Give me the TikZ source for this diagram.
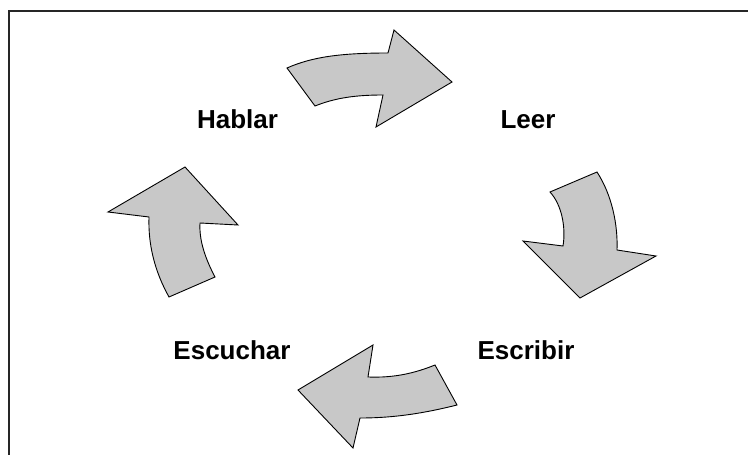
\documentclass[tikz,border=0pt]{standalone}
\usepackage{fontspec}
\setmainfont{Liberation Sans}
\begin{document}
\begin{tikzpicture}[x=1pt,y=-1pt,
  cyclearrow/.style={fill=arrowgray, draw=black, line width=0.9pt, line join=miter},
  label/.style={font=\fontsize{26}{30}\selectfont\bfseries, anchor=base, inner sep=0pt}]
\definecolor{arrowgray}{RGB}{200,200,200}
\useasboundingbox (0,0) rectangle (748,455);
\draw[line width=2pt, draw=black!85] (748,11) -- (8.5,11) -- (8.5,455);
% labels
\node[label] (hablar) at (237.5,128) {Hablar};
\node[label] (leer) at (528,128) {Leer};
\node[label] (escuchar) at (232,359) {Escuchar};
\node[label] (escribir) at (526,359) {Escribir};
% top arrow (Hablar -> Leer)
\draw[cyclearrow] (287,68) .. controls (312,57) and (340,53) .. (388,53) -- (394,30) -- (452,82) -- (376,127) -- (383,95) .. controls (355,95) and (335,98) .. (315,106) -- cycle;
% right arrow (Leer -> Escribir)
\draw[cyclearrow] (550,192) -- (597,172) .. controls (612,195) and (618,225) .. (617,250) -- (656,256) -- (580,298) -- (523,241) -- (563,246) .. controls (566,228) and (562,205) .. (550,192) -- cycle;
% bottom arrow (Escribir -> Escuchar)
\draw[cyclearrow] (435,365) -- (457,405) .. controls (425,413) and (395,418) .. (360,418) -- (353,448) -- (298,390) -- (373,345) -- (368,377) .. controls (395,378) and (415,373) .. (435,365) -- cycle;
% left arrow (Escuchar -> Hablar)
\draw[cyclearrow] (169,297) -- (215,277) .. controls (205,258) and (199,240) .. (200,223) -- (238,225) -- (185,167) -- (108,212) -- (149,217) .. controls (148,245) and (155,272) .. (169,297) -- cycle;
\end{tikzpicture}
\end{document}
